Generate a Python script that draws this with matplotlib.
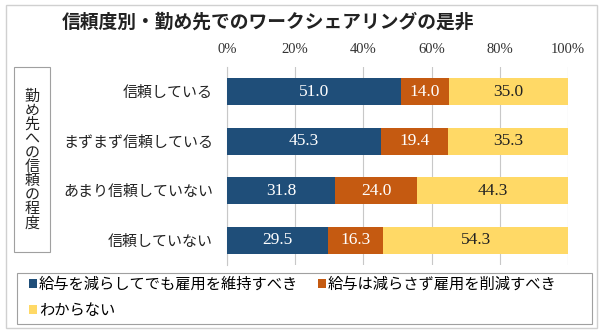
import matplotlib
matplotlib.use("Agg")
import matplotlib.pyplot as plt
from matplotlib.patches import Rectangle, Patch
import numpy as np

plt.rcParams['font.family'] = ['Noto Sans CJK JP', 'DejaVu Sans']

categories = ["信頼している", "まずまず信頼している", "あまり信頼していない", "信頼していない"]
series_names = ["給与を減らしてでも雇用を維持すべき", "給与は減らさず雇用を削減すべき", "わからない"]
keep_jobs = [51.0, 45.3, 31.8, 29.5]
cut_jobs = [14.0, 19.4, 24.0, 16.3]
unknown = [35.0, 35.3, 44.3, 54.3]
xticks = [0, 20, 40, 60, 80, 100]
xtick_labels = ["0%", "20%", "40%", "60%", "80%", "100%"]
title = "信頼度別・勤め先でのワークシェアリングの是非"
ylabel = "勤め先への信頼の程度"

colors = ["#1F4E79", "#C55A11", "#FFD966"]
text_colors = ["white", "white", "#222222"]

W, H = 606, 330
fig = plt.figure(figsize=(W/100, H/100), dpi=100)
fig.patch.set_facecolor("white")

# outer border
fig.add_artist(Rectangle((6/W, 1-328/H), 591/W, 323/H, transform=fig.transFigure,
                         fill=False, edgecolor="#D0D0D0", linewidth=1.0))

ax = fig.add_axes([227/W, 1-265/H, 341/W, 198/H])
y = np.arange(len(categories))
series = [keep_jobs, cut_jobs, unknown]
left = np.zeros(len(categories))
for vals, c, tc in zip(series, colors, text_colors):
    vals = np.array(vals)
    ax.barh(y, vals, left=left, height=0.54, color=c, zorder=3)
    for yi, l, v in zip(y, left, vals):
        ax.text(l + v/2, yi, f"{v:.1f}", ha="center", va="center", color=tc,
                fontsize=12.5, family="Liberation Serif", zorder=4)
    left = left + vals

ax.set_xlim(0, 100)
ax.set_ylim(3.5, -0.5)
ax.set_xticks(xticks)
ax.set_xticklabels(xtick_labels, family="Liberation Serif", fontsize=10.5, color="#333333")
ax.xaxis.tick_top()
ax.tick_params(axis="x", length=0, pad=8)
ax.set_yticks(y)
ax.set_yticklabels(categories, fontsize=10.8, color="#222222")
ax.tick_params(axis="y", length=0, pad=10)
ax.grid(axis="x", color="#C8C8C8", linewidth=0.8, zorder=0)
for s in ["top", "right", "bottom"]:
    ax.spines[s].set_visible(False)
ax.spines["left"].set_color("#C8C8C8")

fig.text(62/W, 1-22/H, title, fontsize=13.5, fontweight="bold", ha="left", va="center", color="#222222")

# vertical y label box
fig.add_artist(Rectangle((14/W, 1-252/H), 36/W, 185/H, transform=fig.transFigure,
                         fill=False, edgecolor="#A0A0A0", linewidth=0.8))
fig.text(32/W, 1-160/H, "\n".join(ylabel), fontsize=10.8, ha="center", va="center",
         linespacing=1.0, color="#222222")

# legend box
fig.add_artist(Rectangle((17/W, 1-324/H), 575/W, 51/H, transform=fig.transFigure,
                         fill=False, edgecolor="#A0A0A0", linewidth=0.8))
handles = [Patch(facecolor=c, edgecolor="none") for c in colors]
order = [0, 2, 1]
leg = fig.legend([handles[i] for i in order], [series_names[i] for i in order],
                 ncol=2, loc="center left",
                 bbox_to_anchor=(29/W, 1-297.5/H),
                 fontsize=11, frameon=False, borderpad=0, borderaxespad=0,
                 handlelength=0.5, handleheight=0.5, handletextpad=0.15,
                 columnspacing=1.3, labelspacing=0.6)

fig.savefig("out.png", dpi=100)
